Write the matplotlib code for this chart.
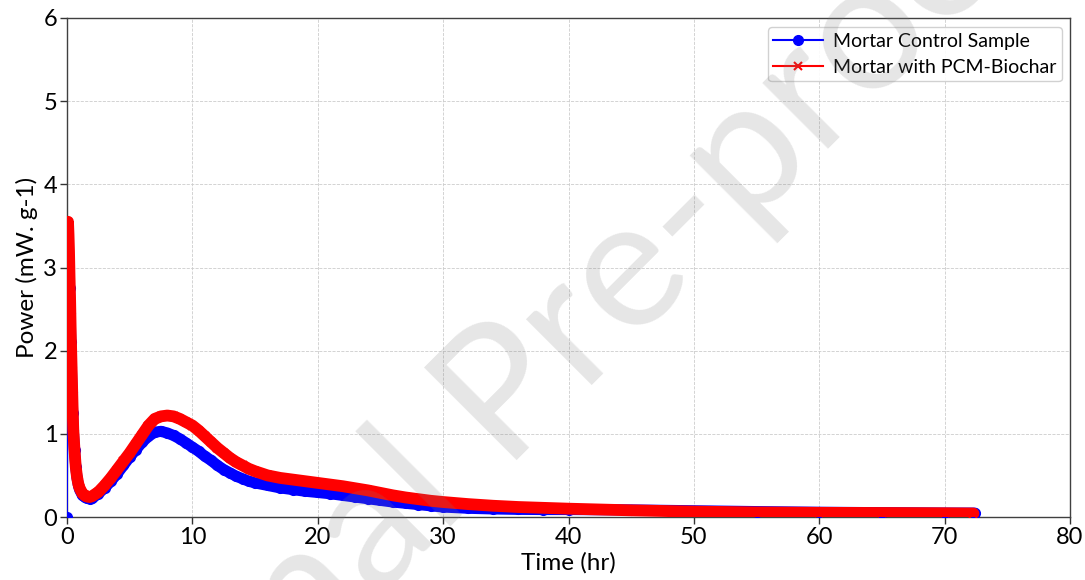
import matplotlib
matplotlib.use("Agg")
import matplotlib.pyplot as plt
from matplotlib.lines import Line2D
import numpy as np

plt.rcParams['font.family'] = ['Lato', 'DejaVu Sans']

# ---- data ----
t_control = [0.0, 0.1, 0.15, 0.2, 0.25, 0.3, 0.35, 0.4, 0.45, 0.5, 0.6, 0.7, 0.8, 0.9,
             1.0, 1.2, 1.4, 1.6, 1.8, 2.0, 2.5, 3.0, 3.5, 4.0, 4.5, 5.0, 5.5, 6.0, 6.5,
             7.0, 7.5, 8.0, 8.5, 9.0, 9.5, 10.0, 10.5, 11.0, 11.5, 12.0, 12.5, 13.0,
             13.5, 14.0, 14.5, 15.0, 16.0, 17.0, 18.0, 19.0, 20.0, 21.0, 22.0, 23.0,
             24.0, 25.0, 26.0, 27.0, 28.0, 29.0, 30.0, 32.0, 34.0, 36.0, 38.0, 40.0,
             45.0, 50.0, 55.0, 60.0, 65.0, 70.0, 72.4]
p_control = [0.0, 3.15, 3.0, 2.75, 2.45, 2.1, 1.8, 1.5, 1.25, 1.05, 0.8, 0.6, 0.47, 0.39,
             0.33, 0.27, 0.24, 0.225, 0.22, 0.225, 0.28, 0.35, 0.43, 0.52, 0.62, 0.72,
             0.81, 0.9, 0.97, 1.02, 1.03, 1.01, 0.98, 0.94, 0.89, 0.84, 0.79, 0.73, 0.68,
             0.62, 0.57, 0.53, 0.49, 0.46, 0.43, 0.41, 0.38, 0.35, 0.33, 0.31, 0.295,
             0.28, 0.26, 0.24, 0.22, 0.2, 0.18, 0.165, 0.15, 0.135, 0.12, 0.105, 0.097,
             0.092, 0.09, 0.09, 0.085, 0.075, 0.065, 0.057, 0.052, 0.047, 0.047]

t_pcm = [0.05, 0.08, 0.12, 0.16, 0.2, 0.25, 0.3, 0.35, 0.4, 0.45, 0.5, 0.6, 0.7, 0.8, 0.9,
         1.0, 1.2, 1.4, 1.6, 1.8, 2.0, 2.5, 3.0, 3.5, 4.0, 4.5, 5.0, 5.5, 6.0, 6.5,
         7.0, 7.5, 8.0, 8.5, 9.0, 9.5, 10.0, 10.5, 11.0, 11.5, 12.0, 12.5, 13.0,
         13.5, 14.0, 14.5, 15.0, 16.0, 17.0, 18.0, 19.0, 20.0, 21.0, 22.0, 23.0,
         24.0, 25.0, 26.0, 27.0, 28.0, 29.0, 30.0, 32.0, 34.0, 36.0, 38.0, 40.0,
         45.0, 50.0, 55.0, 60.0, 65.0, 70.0, 72.3]
p_pcm = [3.3, 3.55, 3.4, 3.2, 2.9, 2.6, 2.2, 1.9, 1.6, 1.3, 1.05, 0.8, 0.6, 0.48, 0.4,
         0.35, 0.29, 0.26, 0.245, 0.24, 0.25, 0.3, 0.38, 0.47, 0.57, 0.67, 0.77, 0.88,
         0.99, 1.1, 1.18, 1.21, 1.22, 1.21, 1.18, 1.14, 1.1, 1.04, 0.97, 0.9, 0.83,
         0.77, 0.71, 0.66, 0.62, 0.58, 0.55, 0.5, 0.47, 0.45, 0.43, 0.41, 0.39, 0.37,
         0.345, 0.32, 0.29, 0.26, 0.235, 0.215, 0.195, 0.18, 0.155, 0.135, 0.12, 0.11,
         0.1, 0.08, 0.065, 0.055, 0.05, 0.048, 0.045, 0.042]

labels = ["Mortar Control Sample", "Mortar with PCM-Biochar"]
x_ticks = [0, 10, 20, 30, 40, 50, 60, 70, 80]
y_ticks = [0, 1, 2, 3, 4, 5, 6]
watermark = "Journal Pre-proof"

# ---- figure ----
W, H = 1085, 580
fig = plt.figure(figsize=(W / 100, H / 100), dpi=100)
ax = fig.add_axes([67 / W, 1 - 517 / H, (1070 - 67) / W, (517 - 18) / H])

# thick bands (dense markers in the original)
ax.plot(t_control[1:], p_control[1:], color='blue', lw=8.0, solid_capstyle='round',
        solid_joinstyle='round', zorder=3)
ax.plot(t_control, p_control, color='blue', lw=1.2, marker='o', ms=7.0, zorder=3)
ax.plot(t_pcm, p_pcm, color='red', lw=8.5, solid_capstyle='round',
        solid_joinstyle='round', zorder=4)
ax.plot(t_pcm, p_pcm, color='red', lw=1.2, marker='x', ms=5.5, mew=1.3, zorder=4)

ax.set_xlim(0, 80)
ax.set_ylim(0, 6)
ax.set_xticks(x_ticks)
ax.set_yticks(y_ticks)
ax.tick_params(labelsize=17, length=5, width=1, color='#333333', pad=2)
ax.grid(True, linestyle='--', linewidth=0.6, color='#cccccc')
ax.set_axisbelow(True)
for s in ax.spines.values():
    s.set_color('#404040')
    s.set_linewidth(1.0)

ax.set_xlabel("Time (hr)", fontsize=17.5, labelpad=3)
ax.set_ylabel("Power (mW. g-1)", fontsize=17.5, labelpad=4)

handles = [Line2D([], [], color='blue', lw=1.5, marker='o', ms=7),
           Line2D([], [], color='red', lw=1.5, marker='x', ms=6, mew=1.5)]
leg = ax.legend(handles, labels, loc='upper right', fontsize=14, frameon=True,
                fancybox=True, framealpha=0.9, edgecolor='#cccccc',
                bbox_to_anchor=((1062 - 67) / 1003, (517 - 27) / 499),
                borderaxespad=0.0, borderpad=0.3, handlelength=2.55,
                handletextpad=0.5, labelspacing=0.45)
leg.set_zorder(6)

# watermark: "P" of "Pre-proof" starts near pixel (500, 478) from top, 45 deg
fs = 132
renderer = fig.canvas.get_renderer()
probe = fig.text(0, 0, "Journal ", fontsize=fs, transform=None)
w_prefix = probe.get_window_extent(renderer=renderer).width
probe.remove()
ang = np.deg2rad(45)
px, py = 505, H - 472
sx = px - w_prefix * np.cos(ang)
sy = py - w_prefix * np.sin(ang)
fig.text(sx, sy, watermark, transform=None, fontsize=fs, color='#808080',
         alpha=0.2, rotation=45, ha='left', va='baseline',
         rotation_mode='anchor', zorder=10)

fig.savefig("out.png", dpi=100)
